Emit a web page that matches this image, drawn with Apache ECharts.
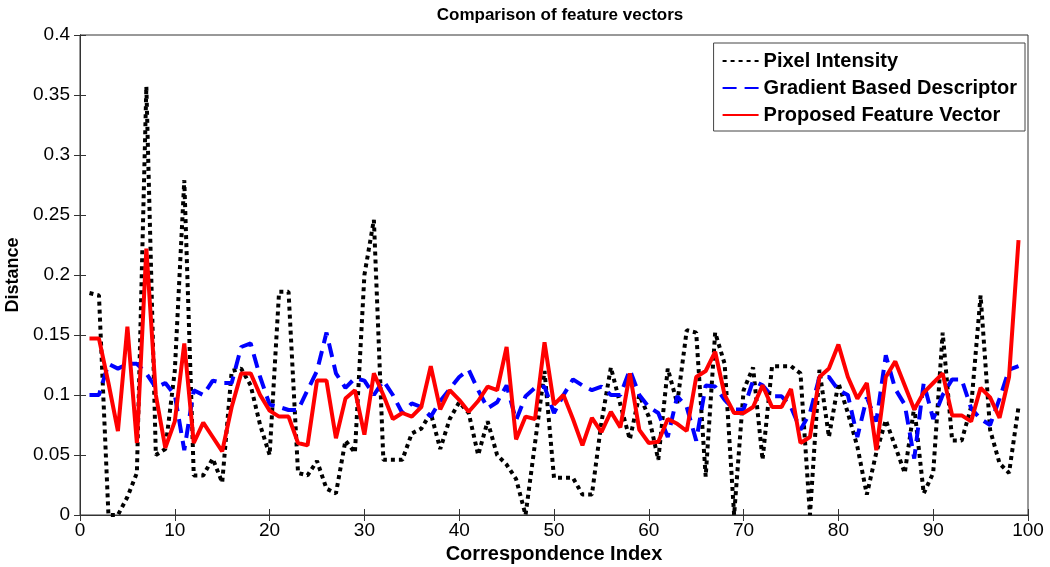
<!DOCTYPE html>
<html>
<head>
<meta charset="utf-8">
<script src="https://cdn.jsdelivr.net/npm/echarts@6/dist/echarts.min.js"></script>
<style>
html,body{margin:0;padding:0;background:#fff;}
#chart{width:1050px;height:567px;}
</style>
</head>
<body>
<div id="chart"></div>
<script>
const indices = Array.from({length: 99}, (_, i) => i + 1);

const pixelIntensity = [
  0.185, 0.183, 0.0, 0.0, 0.015, 0.035, 0.357, 0.05, 0.055, 0.12,
  0.279, 0.033, 0.033, 0.047, 0.027, 0.12, 0.122, 0.108, 0.075, 0.05,
  0.186, 0.186, 0.035, 0.033, 0.045, 0.022, 0.018, 0.062, 0.052, 0.2,
  0.246, 0.046, 0.046, 0.046, 0.068, 0.072, 0.085, 0.055, 0.08, 0.094,
  0.085, 0.05, 0.078, 0.05, 0.042, 0.03, 0.0, 0.06, 0.12, 0.031,
  0.031, 0.031, 0.017, 0.017, 0.077, 0.123, 0.092, 0.063, 0.1, 0.082,
  0.046, 0.122, 0.093, 0.154, 0.152, 0.032, 0.152, 0.126, 0.0, 0.104,
  0.123, 0.046, 0.124, 0.124, 0.124, 0.118, 0.0, 0.121, 0.065, 0.11,
  0.085, 0.057, 0.017, 0.052, 0.079, 0.057, 0.035, 0.09, 0.018, 0.035,
  0.152, 0.062, 0.062, 0.09, 0.183, 0.071, 0.043, 0.035, 0.09
];

const gradientDescriptor = [
  0.1, 0.1, 0.126, 0.122, 0.126, 0.126, 0.118, 0.106, 0.11, 0.1,
  0.054, 0.104, 0.1, 0.112, 0.11, 0.11, 0.14, 0.143, 0.115, 0.092,
  0.09, 0.0875, 0.0875, 0.104, 0.12, 0.152, 0.118, 0.106, 0.114, 0.112,
  0.1, 0.112, 0.1, 0.085, 0.093, 0.09, 0.082, 0.095, 0.105, 0.115,
  0.121, 0.104, 0.089, 0.094, 0.108, 0.079, 0.099, 0.106, 0.107, 0.085,
  0.1, 0.113, 0.108, 0.104, 0.107, 0.1, 0.1, 0.121, 0.1, 0.09,
  0.085, 0.065, 0.099, 0.09, 0.062, 0.108, 0.107, 0.096, 0.088, 0.088,
  0.112, 0.108, 0.099, 0.099, 0.09, 0.071, 0.085, 0.115, 0.115, 0.104,
  0.1, 0.065, 0.098, 0.078, 0.133, 0.105, 0.092, 0.047, 0.11, 0.08,
  0.1, 0.113, 0.113, 0.089, 0.08, 0.075, 0.097, 0.121, 0.124
];

const proposedFeature = [
  0.147, 0.147, 0.11, 0.07, 0.157, 0.06, 0.222, 0.1, 0.056, 0.078,
  0.143, 0.06, 0.077, 0.065, 0.053, 0.09, 0.118, 0.118, 0.1, 0.087,
  0.082, 0.082, 0.06, 0.058, 0.112, 0.112, 0.064, 0.097, 0.104, 0.067,
  0.118, 0.1, 0.08, 0.085, 0.082, 0.09, 0.124, 0.088, 0.104, 0.096,
  0.086, 0.095, 0.107, 0.104, 0.14, 0.063, 0.082, 0.08, 0.144, 0.092,
  0.1, 0.08, 0.058, 0.081, 0.069, 0.086, 0.073, 0.118, 0.071, 0.06,
  0.061, 0.08, 0.076, 0.07, 0.115, 0.12, 0.136, 0.1, 0.085, 0.085,
  0.09, 0.108, 0.09, 0.09, 0.105, 0.06, 0.065, 0.115, 0.122, 0.142,
  0.115, 0.097, 0.11, 0.054, 0.115, 0.128, 0.108, 0.088, 0.102, 0.11,
  0.118, 0.083, 0.083, 0.078, 0.106, 0.098, 0.081, 0.115, 0.229
];

const seriesNames = ['Pixel Intensity', 'Gradient Based Descriptor', 'Proposed Feature Vector'];

function pairs(vals) { return indices.map((x, i) => [x, vals[i]]); }

const tickFont = "'Liberation Sans Narrow', 'Liberation Sans', Arial, sans-serif";
const boldFont = "'Liberation Sans', Arial, sans-serif";

const chart = echarts.init(document.getElementById('chart'), null, {renderer: 'canvas'});
chart.setOption({
  animation: false,
  backgroundColor: '#ffffff',
  title: {
    text: 'Comparison of feature vectors',
    left: 555, top: 2, textAlign: 'center',
    textStyle: {fontFamily: boldFont, fontWeight: 'bold', fontSize: 17, color: '#000'}
  },
  grid: {left: 80, right: 22, top: 35, bottom: 52, containLabel: false, outerBoundsMode: 'none',
    show: true, borderColor: '#333', borderWidth: 1, backgroundColor: 'transparent'},
  legend: {
    orient: 'vertical',
    right: 25, top: 43,
    data: seriesNames,
    itemWidth: 36, itemHeight: 14, itemGap: 7, itemTextGap: 8,
    padding: [8, 8, 6, 8],
    borderColor: '#444', borderWidth: 1, backgroundColor: '#fff',
    itemStyle: {opacity: 0},
    textStyle: {fontFamily: boldFont, fontWeight: 'bold', fontSize: 20, lineHeight: 20, color: '#000'}
  },
  xAxis: [{
    type: 'value', min: 0, max: 100, interval: 10, position: 'bottom',
    name: 'Correspondence Index', nameLocation: 'middle', nameGap: 28,
    nameTextStyle: {fontFamily: boldFont, fontWeight: 'bold', fontSize: 20, color: '#000'},
    axisLine: {show: true, lineStyle: {color: '#333', width: 1}},
    axisTick: {inside: true, length: 6, lineStyle: {color: '#333'}},
    axisLabel: {fontFamily: tickFont, fontSize: 19, color: '#000', margin: 6},
    splitLine: {show: false}
  }, {
    type: 'value', min: 0, max: 100, interval: 10, position: 'top',
    axisLine: {show: true, lineStyle: {color: '#333', width: 1}},
    axisTick: {inside: true, length: 6, lineStyle: {color: '#333'}},
    axisLabel: {show: false}, splitLine: {show: false}
  }],
  yAxis: [{
    type: 'value', min: 0, max: 0.4, interval: 0.05, position: 'left',
    name: 'Distance', nameLocation: 'middle', nameGap: 53, nameRotate: 90,
    nameTextStyle: {fontFamily: boldFont, fontWeight: 'bold', fontSize: 18, color: '#000'},
    axisLine: {show: true, lineStyle: {color: '#333', width: 1}},
    axisTick: {inside: true, length: 6, lineStyle: {color: '#333'}},
    axisLabel: {fontFamily: tickFont, fontSize: 19, color: '#000', margin: 10,
      formatter: v => String(Math.round(v * 100) / 100)},
    splitLine: {show: false}
  }, {
    type: 'value', min: 0, max: 0.4, interval: 0.05, position: 'right',
    axisLine: {show: true, lineStyle: {color: '#333', width: 1}},
    axisTick: {inside: true, length: 6, lineStyle: {color: '#333'}},
    axisLabel: {show: false}, splitLine: {show: false}
  }],
  series: [{
    name: seriesNames[0], type: 'line', data: pairs(pixelIntensity),
    showSymbol: false, symbol: 'none', color: '#000000',
    lineStyle: {color: '#000000', width: 4, type: [4, 4], cap: 'butt'}
  }, {
    name: seriesNames[1], type: 'line', data: pairs(gradientDescriptor),
    showSymbol: false, symbol: 'none', color: '#0000ff',
    lineStyle: {color: '#0000ff', width: 4, type: [14, 8], cap: 'butt'}
  }, {
    name: seriesNames[2], type: 'line', data: pairs(proposedFeature),
    showSymbol: false, symbol: 'none', color: '#ff0000',
    lineStyle: {color: '#ff0000', width: 4, type: 'solid'}
  }]
});
</script>
</body>
</html>
